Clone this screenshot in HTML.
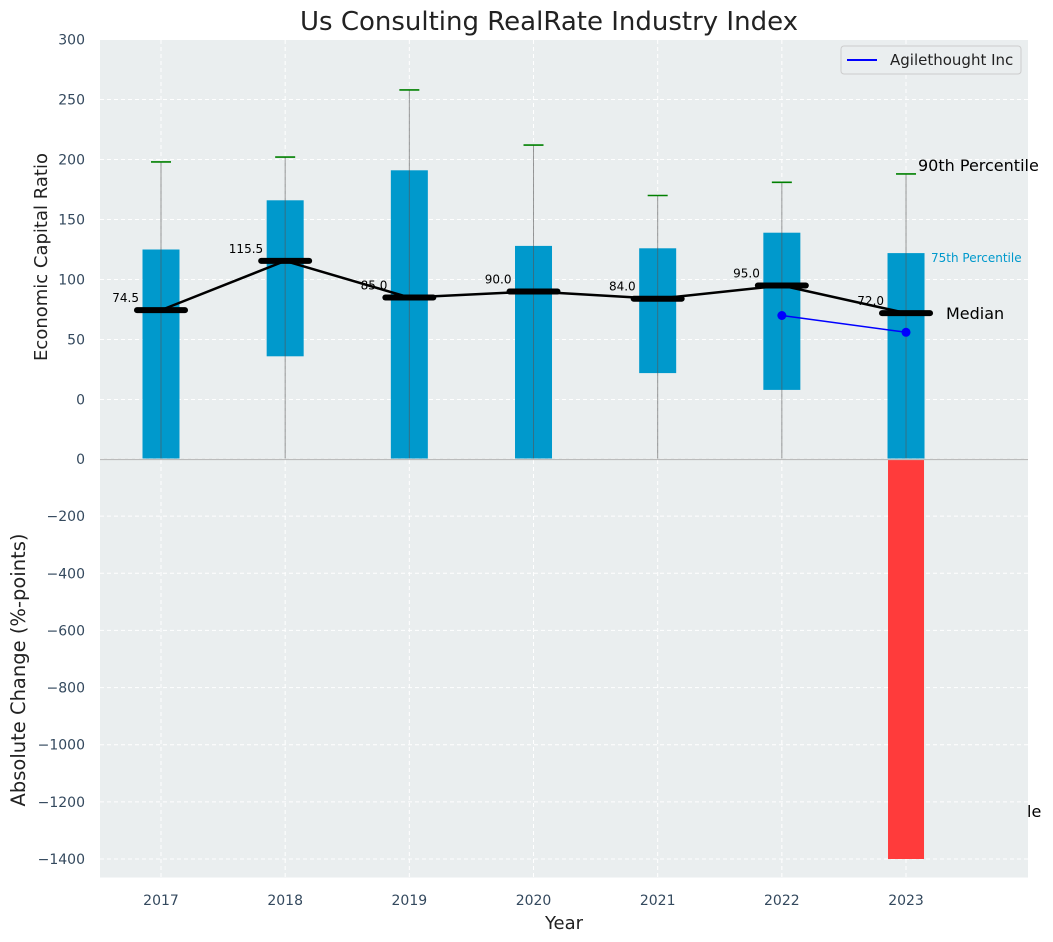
<!DOCTYPE html>
<html><head><meta charset="utf-8"><style>
body{margin:0;background:#fff;}
svg{display:block;font-family:"DejaVu Sans","Liberation Sans",sans-serif;}
</style></head><body>
<svg id="chart" width="1053" height="942" xmlns="http://www.w3.org/2000/svg"></svg>
<script>
const years=['2017','2018','2019','2020','2021','2022','2023'];
const p25=[-60,36,-60,-60,22,8,-60];
const p75=[125,166,191,128,126,139,122];
const p90=[198,202,258,212,170,181,188];
const medians=[74.5,115.5,85,90,84,95,72];
const companyYears=[5,6];
const companyVals=[70,56];
const changeVals=[0,0,0,0,0,0,-1400];
const topTicks=[300,250,200,150,100,50,0];
const botTicks=[0,-200,-400,-600,-800,-1000,-1200,-1400];

const NS='http://www.w3.org/2000/svg';
const svg=document.getElementById('chart');
const L=100,R=1028;
const x=i=>161+i*124.17;
const yT=v=>399.5-(v)*1.2;
const yB=v=>459+(-v)*(400/1400);
function el(t,a,p){const e=document.createElementNS(NS,t);for(const k in a)e.setAttribute(k,a[k]);(p||svg).appendChild(e);return e;}
function txt(s,a){const e=el('text',a);e.textContent=s;return e;}

const bgT=el('rect',{x:L,y:40,width:R-L,height:419.5,fill:'#eaeeef'});


const bgB=el('rect',{x:L,y:459.5,width:R-L,height:418,fill:'#eaeeef'});



years.forEach((y,i)=>{
  el('line',{x1:x(i),x2:x(i),y1:40,y2:877,stroke:'#fff','stroke-dasharray':'4,3','stroke-width':1});
});
topTicks.forEach(v=>{
  el('line',{x1:L,x2:R,y1:yT(v),y2:yT(v),stroke:'#fff','stroke-dasharray':'4,3'});
  const t=txt(String(v),{x:85,y:yT(v)+5,'text-anchor':'end','font-size':14,fill:'#34495e'});
  
  
});
botTicks.forEach(v=>{
  el('line',{x1:L,x2:R,y1:yB(v),y2:yB(v),stroke:'#fff','stroke-dasharray':'4,3'});
  const t=txt(v<0?'\u2212'+(-v):String(v),{x:85,y:yB(v)+5,'text-anchor':'end','font-size':14,fill:'#34495e'});
  
  
});
years.forEach((y,i)=>{
  const t=txt(y,{x:x(i),y:905,'text-anchor':'middle','font-size':14,fill:'#34495e'});
  
  
});

const defs=el('defs',{});
const cp=el('clipPath',{id:'ct'},defs);
el('rect',{x:L,y:40,width:R-L,height:418.5},cp);
const gT=el('g',{'clip-path':'url(#ct)'});

const bw=37;
years.forEach((y,i)=>{
  const top=yT(p75[i]),bot=yT(p25[i]);
  const b=el('rect',{x:x(i)-bw/2,y:top,width:bw,height:bot-top,fill:'#0099cc'},gT);
  
  
  const w=el('line',{x1:x(i),x2:x(i),y1:yT(p90[i]),y2:470,stroke:'#555','stroke-opacity':0.6,'stroke-width':1},gT);
  
  
  const c=el('line',{x1:x(i)-10,x2:x(i)+10,y1:yT(p90[i]),y2:yT(p90[i]),stroke:'green','stroke-width':1.6},gT);
  
  
});
const pts=medians.map((m,i)=>x(i)+','+yT(m)).join(' ');
const ml=el('polyline',{points:pts,fill:'none',stroke:'#000','stroke-width':2.5});


medians.forEach((m,i)=>{
  const s=el('line',{x1:x(i)-24,x2:x(i)+24,y1:yT(m),y2:yT(m),stroke:'#000','stroke-width':6,'stroke-linecap':'round'});
  
  
  const t=txt(m.toFixed(1),{x:x(i)-22,y:yT(m)-8,'text-anchor':'end','font-size':12,fill:'#000'});
  
  
});
const cpts=companyYears.map((k,j)=>x(k)+','+yT(companyVals[j])).join(' ');
const cl=el('polyline',{points:cpts,fill:'none',stroke:'blue','stroke-width':1.5});


companyYears.forEach((k,j)=>{
  const d=el('circle',{cx:x(k),cy:yT(companyVals[j]),r:4.5,fill:'blue'});
  
  
});
let a=txt('90th Percentile',{x:918,y:171,'font-size':16,fill:'#000'});

a=txt('75th Percentile',{x:931,y:262,'font-size':12,fill:'#0099cc'});

a=txt('Median',{x:946,y:319,'font-size':16,fill:'#000'});

a=txt('le',{x:1027,y:817,'font-size':16,fill:'#000'});


changeVals.forEach((v,i)=>{
  if(v===0)return;
  const b=el('rect',{x:x(i)-18,y:yB(0),width:36,height:yB(v)-yB(0),fill:'#ff3b3b'});
  
  
});
el('line',{x1:L,x2:R,y1:459.5,y2:459.5,stroke:'#bbb','stroke-width':1.2});

const lg=el('g',{});


el('rect',{x:841,y:46,width:180,height:28,rx:3,fill:'#eaeeef',stroke:'#ccc'},lg);
el('line',{x1:847,x2:877,y1:60,y2:60,stroke:'blue','stroke-width':2},lg);
const lt=txt('Agilethought Inc',{x:890,y:65,'font-size':15,fill:'#222'});
lg.appendChild(lt);

a=txt('Us Consulting RealRate Industry Index',{x:549,y:30,'text-anchor':'middle','font-size':26,fill:'#222'});

a=txt('Economic Capital Ratio',{x:0,y:0,'text-anchor':'middle','font-size':18,fill:'#222',transform:'translate(47,257) rotate(-90)'});

a=txt('Absolute Change (%-points)',{x:0,y:0,'text-anchor':'middle','font-size':19.5,fill:'#222',transform:'translate(25,670) rotate(-90)'});

a=txt('Year',{x:564,y:929,'text-anchor':'middle','font-size':18,fill:'#222'});

</script>
</body></html>
